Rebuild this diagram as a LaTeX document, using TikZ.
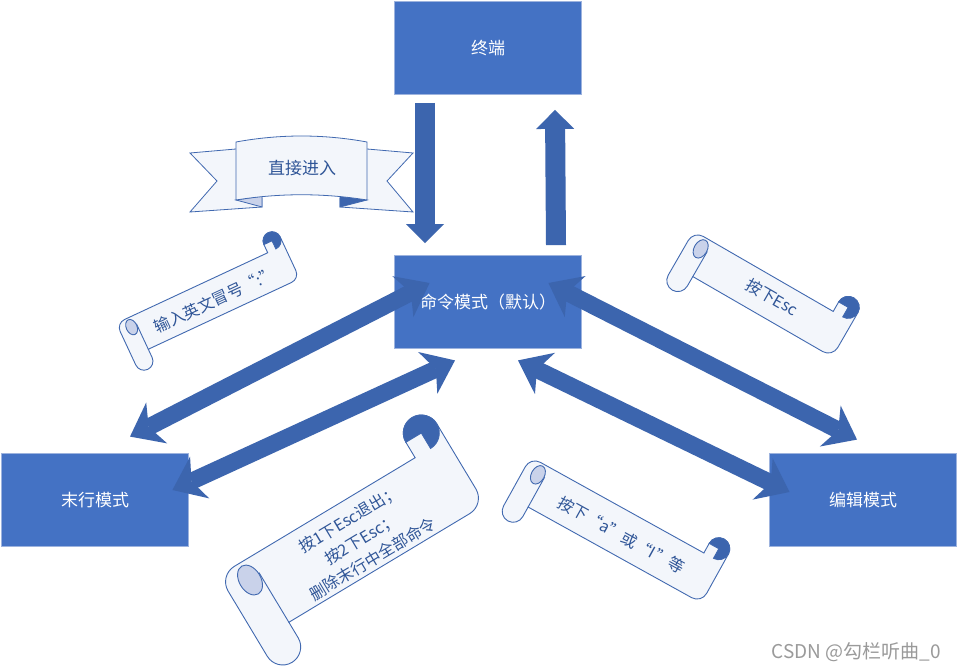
\documentclass[tikz,border=0pt]{standalone}
\usepackage{fontspec}
\setmainfont{Noto Sans CJK SC}
\usetikzlibrary{arrows.meta}
\definecolor{azulcaja}{HTML}{4472C4}
\definecolor{bordecaja}{HTML}{9DB3DE}
\definecolor{azulflecha}{HTML}{3C65AE}
\definecolor{borde}{HTML}{4169B0}
\definecolor{papel}{HTML}{F3F6FB}
\definecolor{sombra}{HTML}{C9D2EA}
\definecolor{letra}{HTML}{2F5597}
\definecolor{marca}{HTML}{9A9A9A}

\begin{document}
\begin{tikzpicture}[x=1pt, y=-1pt,
      caja/.style={draw=bordecaja, line width=.8pt, fill=azulcaja, text=white, minimum width=187pt, minimum height=93pt, font=\fontsize{17}{20}\selectfont},
      flecha/.style={draw=azulflecha, line width=17pt, arrows={Stealth[length=30pt, width=46pt, inset=9pt, line width=0pt]-Stealth[length=30pt, width=46pt, inset=9pt, line width=0pt]}},
      bloque/.style={draw=azulflecha, line width=20pt, arrows={-Triangle[length=19pt, width=38pt, line width=0pt]}},
      etiqueta/.style={text=letra, font=\fontsize{16}{23}\selectfont, align=center},
      pics/rollo/.style n args={3}{code={
        \begin{scope}[shift={({-#1/2},{-#2/2})}]
          \path[fill=papel, draw=borde, line width=.9pt]
            (0,{#2-#3/2}) -- (0,{1.5*#3}) arc[start angle=180, end angle=270, radius={#3/2}]
            -- ({#1-#3},#3) -- ({#1-#3},{#3/2}) arc[start angle=180, end angle=360, radius={#3/2}]
            -- (#1,{#2-1.5*#3}) arc[start angle=0, end angle=90, radius={#3/2}]
            -- (#3,{#2-#3}) -- (#3,{#2-#3/2}) arc[start angle=0, end angle=180, radius={#3/2}]
            -- cycle;
          \draw[borde, line width=.9pt] (#3,{1.5*#3}) -- (#3,{#2-#3});
          \draw[borde, line width=.9pt, fill=sombra] ({0.68*#3},{1.55*#3}) ellipse[x radius={0.3*#3}, y radius={0.45*#3}];
          \draw[borde, line width=.9pt, fill=azulflecha] ({#1-#3/2},{#3/2}) -- ({#1-#3},{#3/2})
            arc[start angle=180, end angle=450, radius={#3/2}] -- cycle;
        \end{scope}
      }}
    ]
    \useasboundingbox[fill=white] (0,0) rectangle (959,671);

    % --- Cajas ---
    \node[caja] (term) at (488,48) {终端};
    \node[caja] (cmd) at (488,302) {命令模式（默认）};
    \node[caja] (ult) at (95,500) {末行模式};
    \node[caja] (edit) at (863,500) {编辑模式};

    % --- Flechas ---
    \draw[bloque] ([shift={(-63pt,-8pt)}]term.south) -- ([shift={(-63pt,12pt)}]cmd.north);
    \draw[bloque] ([shift={(68pt,10pt)}]cmd.north) -- ([shift={(67pt,-15pt)}]term.south);
    \draw[flecha] ([shift={(35.5pt,19pt)}]cmd.west) -- ([shift={(35pt,16.5pt)}]ult.north);
    \draw[flecha] ([shift={(-16.5pt,10pt)}]ult.east) -- ([shift={(-33pt,-11.5pt)}]cmd.south);
    \draw[flecha] ([shift={(-33.5pt,19pt)}]cmd.east) -- ([shift={(-6pt,13.5pt)}]edit.north);
    \draw[flecha] ([shift={(20.5pt,8pt)}]edit.west) -- ([shift={(30pt,-11.5pt)}]cmd.south);

    % --- Cinta ---
    \path[fill=papel, draw=borde, line width=.8pt] (236,149) -- (190,153) -- (217,181) -- (190,212) -- (262,207) -- (262,198);
    \path[fill=papel, draw=borde, line width=.8pt] (367,149) -- (413,153) -- (387,181) -- (413,212) -- (340,207) -- (340,198);
    \path[fill=sombra, draw=borde, line width=.8pt] (236,200) -- (262,207) -- (262,196) -- cycle;
    \path[fill=azulflecha, draw=borde, line width=.8pt] (367,200) -- (340,207) -- (340,196) -- cycle;
    \path[fill=papel, draw=borde, line width=.8pt] (236,142) .. controls (280,134) and (323,134) .. (367,142)
      -- (367,200) .. controls (323,193) and (280,193) .. (236,200) -- cycle;
    \node[etiqueta, font=\fontsize{17}{20}\selectfont] (cinta) at (302,168) {直接进入};

    % --- Rollos ---
    \pic[rotate=25] (r1) at (208,301) {rollo={185}{73}{18}};
    \node[etiqueta, rotate=25] (t1) at (215,300) {输入英文冒号“:”};
    \pic[rotate=-30] (r2) at (763,294) {rollo={183}{84}{22}};
    \node[etiqueta, rotate=-30] (t2) at (772,297) {按下Esc};
    \pic[rotate=31] (r3) at (352,540) {rollo={265}{148}{36}};
    \node[etiqueta, rotate=31] (t3) at (361,539) {按1下Esc退出；\\按2下Esc；\\删除末行中全部命令};
    \pic[rotate=-29] (r4) at (616,530) {rollo={220}{89}{22}};
    \node[etiqueta, rotate=-29] (t4) at (621,535) {按下“a”或“I”等};

    \node[text=marca, font=\fontsize{19}{22}\selectfont] (marca) at (856,652) {CSDN @勾栏听曲\_0};
  \end{tikzpicture}
\end{document}
